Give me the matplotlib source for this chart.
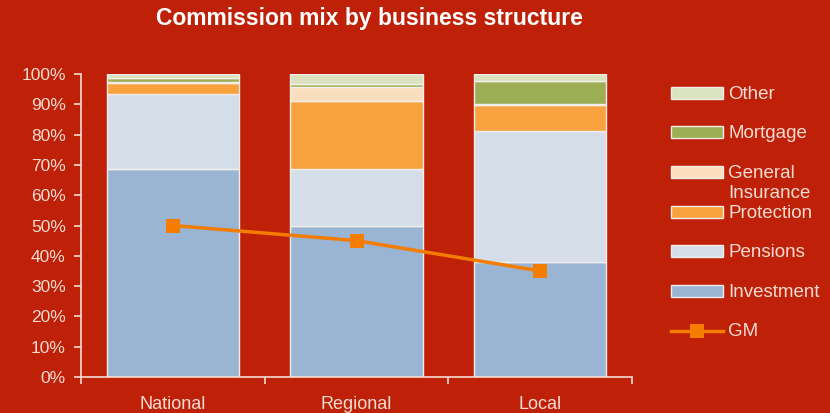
import matplotlib.pyplot as plt
from matplotlib.patches import Rectangle
from matplotlib.lines import Line2D
from matplotlib.ticker import PercentFormatter

plt.rcParams['font.family'] = ['Liberation Sans', 'DejaVu Sans']

# commission mix per business structure (% of total)
structures = ["National", "Regional", "Local"]
investment = [68.5, 50.0, 38.0]
pensions = [25.0, 18.5, 43.2]
protection = [3.5, 22.7, 8.7]
general_ins = [0.5, 4.5, 0.3]
mortgage = [1.3, 1.1, 7.5]
other = [1.2, 3.2, 2.3]
gm = [50, 45, 35]

series = [
    ("Investment", investment, "#9AB4D3"),
    ("Pensions", pensions, "#D5DDE8"),
    ("Protection", protection, "#F7A13F"),
    ("General\nInsurance", general_ins, "#FBDEBE"),
    ("Mortgage", mortgage, "#9EAE55"),
    ("Other", other, "#DAE2BF"),
]

bg = "#BF2108"
txt = "#F6DCD3"

fig = plt.figure(figsize=(8.3, 4.13), dpi=100, facecolor=bg)
ax = fig.add_axes([81/830, 1-377/413, (632-81)/830, (377-74)/413])
ax.set_facecolor(bg)

x = range(len(structures))
bottom = [0, 0, 0]
for name, vals, col in series:
    ax.bar(x, vals, width=0.72, bottom=bottom, color=col,
           edgecolor="#F4EEEA", linewidth=1.0, zorder=2)
    bottom = [b + v for b, v in zip(bottom, vals)]

ax.plot(x, gm, color="#F47D00", lw=2.5, marker="s", ms=10,
        markeredgewidth=0, zorder=3)

ax.set_xlim(-0.5, 2.5)
ax.set_ylim(0, 100)
ax.set_yticks(range(0, 101, 10))
ax.yaxis.set_major_formatter(PercentFormatter(decimals=0))
ax.set_xticks(list(x))
ax.set_xticklabels(structures)
ax.set_xticks([-0.5, 0.5, 1.5, 2.5], minor=True)

for s in ["top", "right"]:
    ax.spines[s].set_visible(False)
for s in ["left", "bottom"]:
    ax.spines[s].set_color(txt)
    ax.spines[s].set_linewidth(1.2)

ax.tick_params(axis="y", colors=txt, labelsize=12.5, length=5, width=1.2, pad=6)
ax.tick_params(axis="x", which="major", colors=txt, labelsize=13, length=0, pad=14)
ax.tick_params(axis="x", which="minor", colors=txt, length=5, width=1.2)

fig.text(369/830, 1-18/413, "Commission mix by business structure",
         ha="center", va="center", color="white", fontsize=16.5, fontweight="bold")

# legend, top to bottom
rows_y = [93, 132, 172, 212, 251, 291]
for (name, vals, col), yy in zip(reversed(series), rows_y):
    fig.add_artist(Rectangle((671/830, 1-(yy+6)/413), 52/830, 12/413,
                             transform=fig.transFigure, facecolor=col,
                             edgecolor="#F4EEEA", linewidth=1.0))
    fig.text(728/830, 1-(yy-7)/413, name, ha="left", va="top",
             color=txt, fontsize=13.5, linespacing=1.2)

fig.add_artist(Line2D([671/830, 723/830], [1-331/413, 1-331/413],
                      transform=fig.transFigure, color="#F47D00", lw=2.5))
fig.add_artist(Line2D([697/830], [1-331/413], transform=fig.transFigure,
                      color="#F47D00", marker="s", ms=10, markeredgewidth=0))
fig.text(728/830, 1-331/413, "GM", ha="left", va="center", color=txt, fontsize=13.5)

fig.savefig("out.png", dpi=100, facecolor=bg)
